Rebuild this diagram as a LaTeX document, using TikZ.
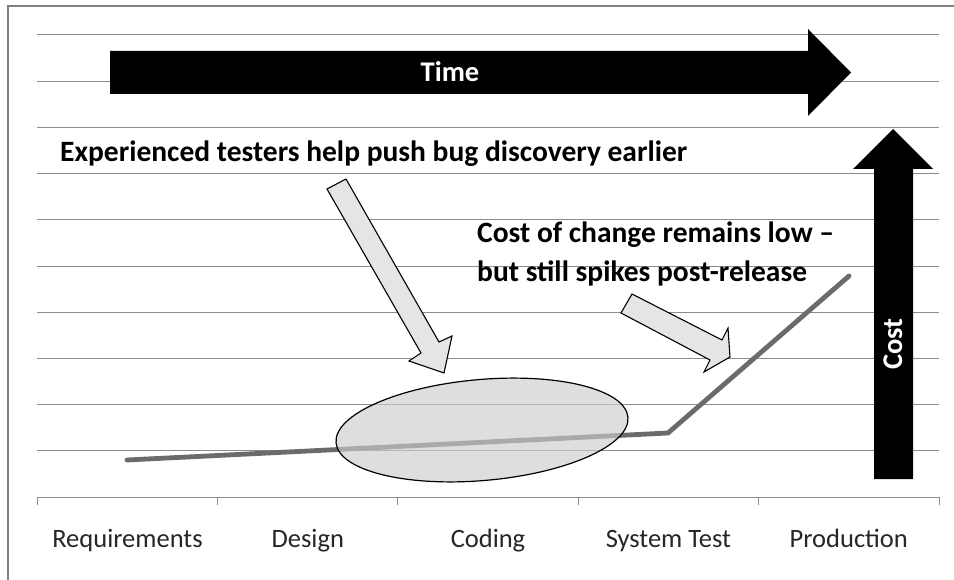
\documentclass[tikz,border=0pt]{standalone}
\usepackage{fontspec}
\setmainfont{Carlito}
\usetikzlibrary{shapes.geometric, positioning}

\begin{document}
\begin{tikzpicture}[
    x=1pt, y=-1pt,
    gridline/.style={draw=black!45, line width=1pt},
    frameline/.style={draw=black!50, line width=2pt},
    bigarrow/.style={fill=black},
    callout/.style={fill=black!10, draw=black, line width=1.1pt, line join=miter},
    costline/.style={draw=black!58, line width=4.8pt, line cap=round},
    blob/.style={ellipse, draw=black, line width=1.2pt, fill=black!20, fill opacity=0.65, minimum width=293pt, minimum height=101pt, inner sep=0pt},
    stage/.style={font=\fontsize{26.5}{30}\selectfont, text=black!85, inner sep=0pt, anchor=base},
    note/.style={font=\bfseries\fontsize{29.5}{39}\selectfont, inner sep=0pt, anchor=base west},
    banner/.style={font=\bfseries\fontsize{28.5}{32}\selectfont, text=white, inner sep=0pt}
]
\useasboundingbox (0,0) rectangle (954,580);

% Frame and grid
\draw[frameline] (954,6) -- (8,6) -- (8,580);
\foreach \k in {0,...,9}
    \draw[gridline] (37,{35+46.22*\k}) -- (939,{35+46.22*\k});
\draw[gridline] (37,497) -- (939,497);
\foreach \x in {37,217.4,397.8,578.2,758.6,939}
    \draw[gridline] (\x,497) -- (\x,505);

% Stages
\foreach \name/\x [count=\i] in {Requirements/127.5, Design/307.8, Coding/488, System Test/668.4, Production/848.8}
    \node[stage] (stage\i) at (\x,547) {\name};

% Time and cost arrows
\fill[bigarrow] (110,51) -- (808,51) -- (808,29) -- (851,72.5) -- (808,116) -- (808,94) -- (110,94) -- cycle;
\fill[bigarrow] (874,479) -- (874,169) -- (853,169) -- (893,129) -- (933,169) -- (913,169) -- (913,479) -- cycle;
\node[banner] (time) at (450,72) {Time};
\node[banner, rotate=90] (cost) at (893,344) {Cost};

% Cost curve
\draw[costline] (127,460) -- (308,451) -- (488,442) -- (668,433) -- (849,276);
\node[blob, rotate=5] (early) at (482,430) {};

% Callouts
\draw[callout] (346,179) -- (439,342) -- (452,336) -- (444,373) -- (409,361) -- (421,353) -- (327,189) -- cycle;
\draw[callout] (632,294) -- (722,340) -- (728,328) -- (730,357) -- (704,372) -- (710,360) -- (621,313) -- cycle;

\node[note] (testers) at (60,162) {Experienced testers help push bug discovery earlier};
\node[note] (lowcost) at (477,243) {Cost of change remains low --};
\node[note] (spikes) at (477,282) {but still spikes post-release};

\end{tikzpicture}
\end{document}
